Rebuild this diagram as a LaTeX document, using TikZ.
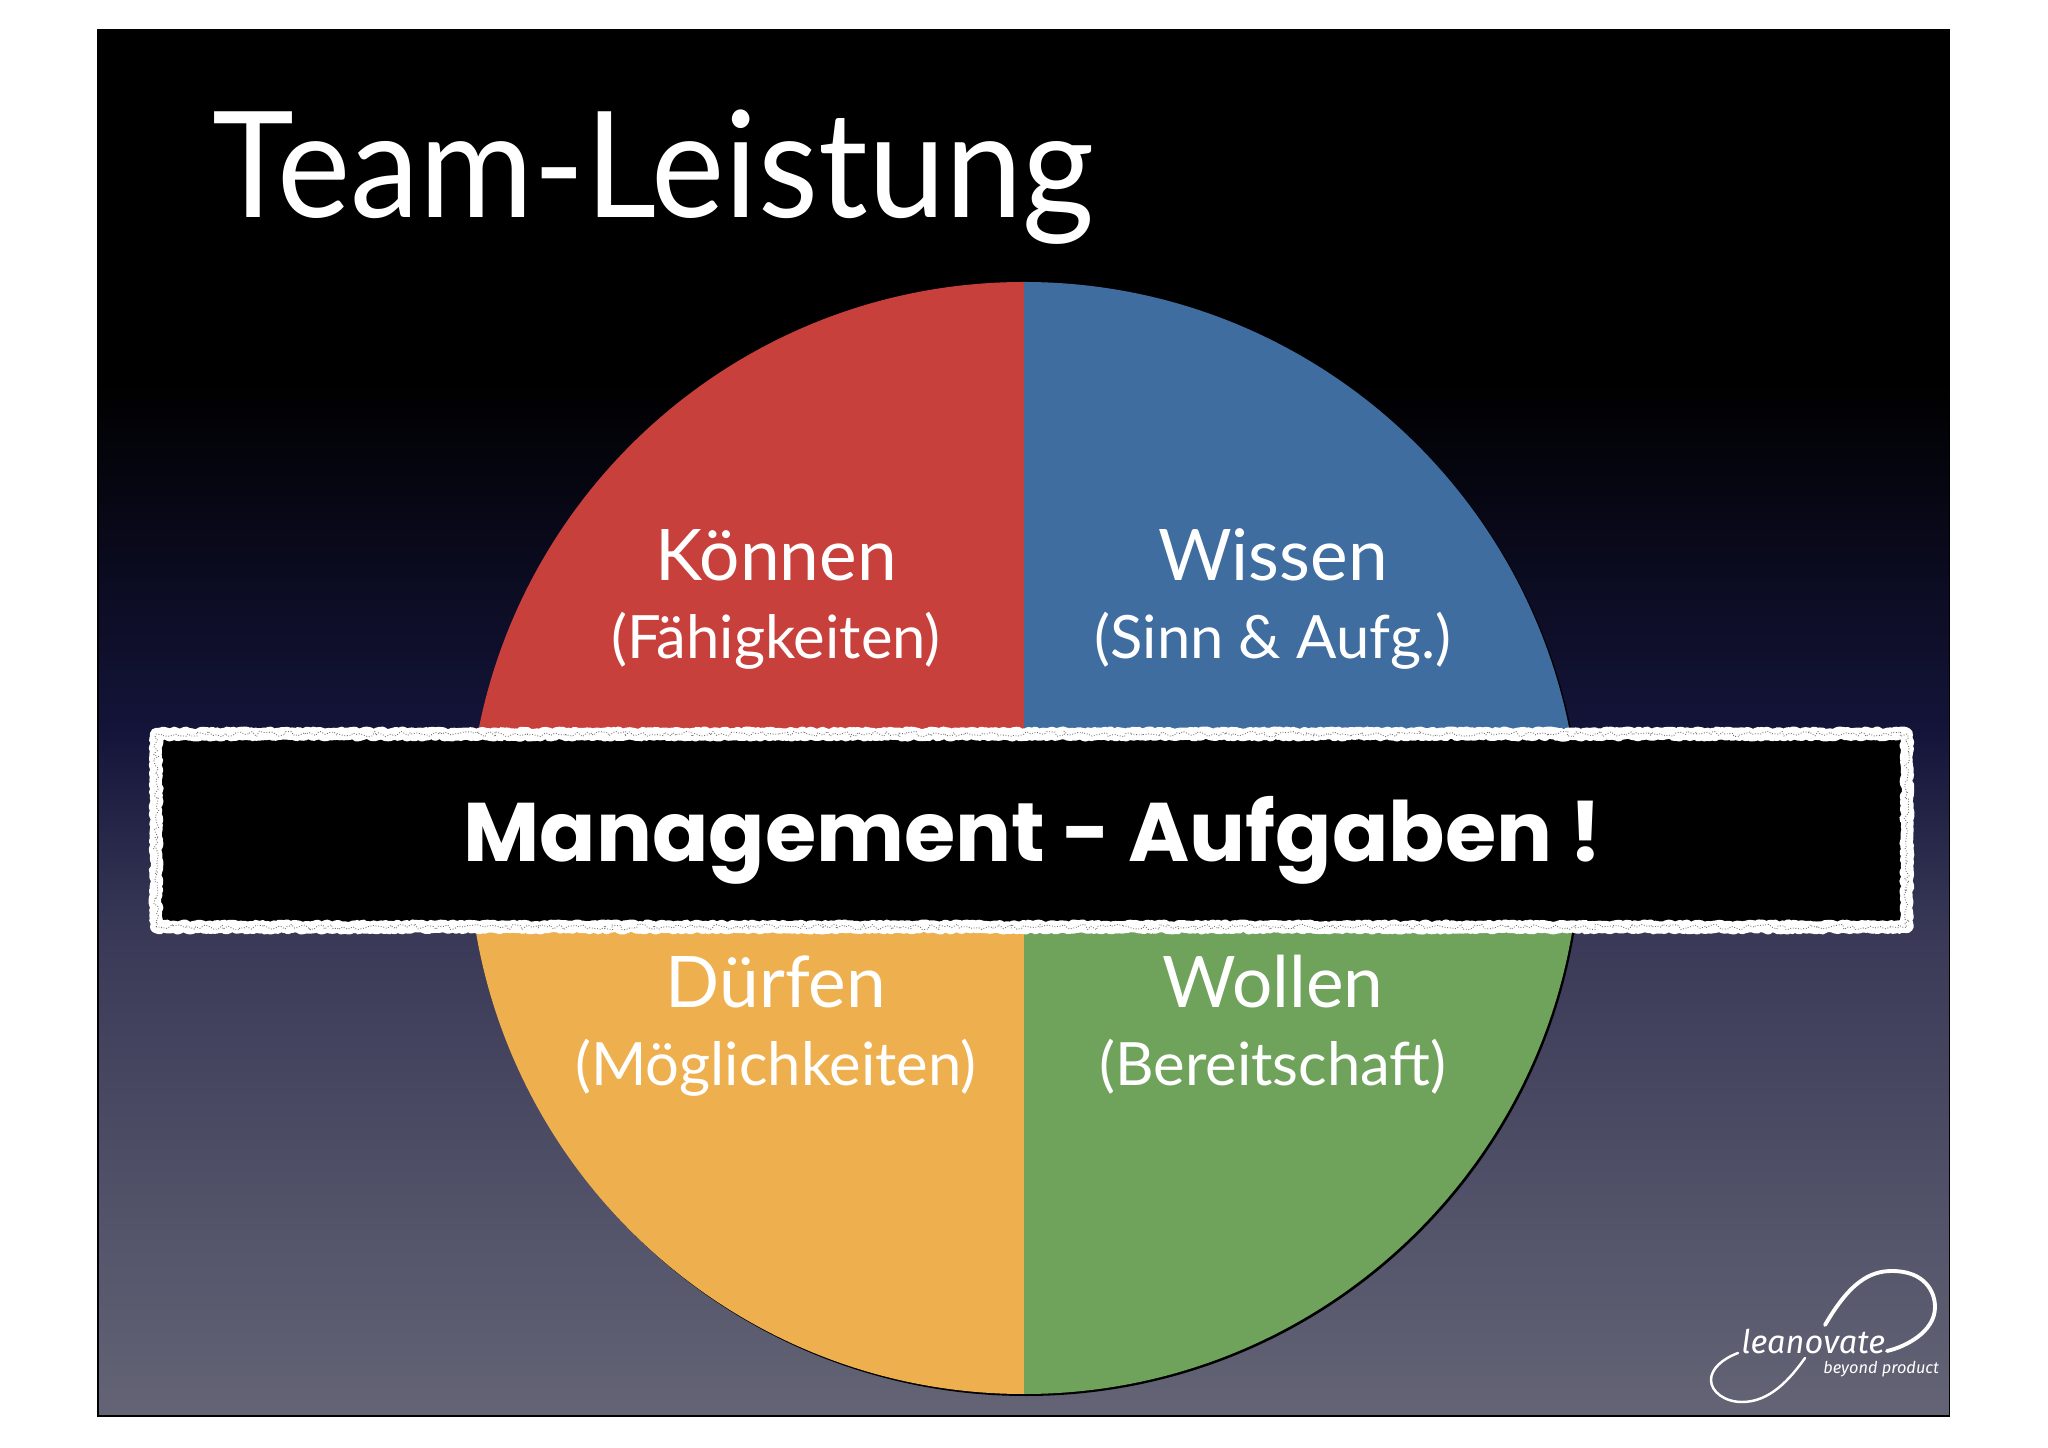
\documentclass[tikz,border=0pt]{standalone}
\usepackage{xcolor}
\usepackage{fontspec}
\usepackage{tikz}
\usetikzlibrary{decorations.pathmorphing}
\setmainfont{Lato}
\newfontfamily\titlefont[FakeStretch=0.94]{Lato}
\newfontfamily\bandfont{Poppins}
\newfontfamily\logofont{Fira Sans}
\definecolor{quadred}{HTML}{C8403C}
\definecolor{quadblue}{HTML}{3F6DA0}
\definecolor{quadorange}{HTML}{EEAF4E}
\definecolor{quadgreen}{HTML}{6FA35C}
\definecolor{bgnavy}{HTML}{14143A}
\definecolor{bgslate}{HTML}{3A3A58}
\definecolor{bggrey}{HTML}{646476}
\tikzset{
  quadtitle/.style={anchor=base, text=white, font=\fontsize{40.5}{40.5}\selectfont},
  quadsub/.style={anchor=base, text=white, font=\fontsize{34}{34}\selectfont},
  logoline/.style={draw=white, line width=2.2pt, line cap=round}
}
\begin{document}
\begin{tikzpicture}[x=0.02cm, y=0.02cm]
                  \useasboundingbox (0,0) rectangle (2048,1447);
                  \pgfmathsetseed{4711}
                  % Background
                  \fill [black] (98,1066) rectangle (1949,1417);
                  \shade [top color=black, bottom color=bgnavy] (98,716) rectangle (1949,1067);
                  \shade [top color=bgnavy, bottom color=bgslate] (98,506) rectangle (1949,717);
                  \shade [top color=bgslate, bottom color=bggrey] (98,31) rectangle (1949,507);
                  \draw [black, line width=0.6pt] (98,31) rectangle (1949,1417);

                  % Title
                  \node [anchor=base west, inner sep=0pt, text=white, font=\titlefont\fontsize{84}{84}\selectfont] (title) at (212,1229) {Team-Leistung};

                  % Quadrants of the circle
                  \fill [black] (1026,607) circle (556);
                  \fill [quadred] (1024,609) -- (1024,1165) arc (90:180:556) -- cycle;
                  \fill [quadblue] (1024,609) -- (1024,1165) arc (90:0:556) -- cycle;
                  \fill [quadorange] (1024,609) -- (1024,53) arc (270:180:556) -- cycle;
                  \fill [quadgreen] (1024,609) -- (1024,53) arc (270:360:556) -- cycle;

                  % Nodes for quadrants
                  \node [quadtitle] (koennen) at (776,866) {Können};
                  \node [quadsub] (koennensub) at (776,788) {(Fähigkeiten)};
                  \node [quadtitle] (wissen) at (1273,866) {Wissen};
                  \node [quadsub] (wissensub) at (1273,788) {(Sinn \& Aufg.)};
                  \node [quadtitle] (duerfen) at (776,439) {Dürfen};
                  \node [quadsub] (duerfensub) at (776,361) {(Möglichkeiten)};
                  \node [quadtitle] (wollen) at (1273,439) {Wollen};
                  \node [quadsub] (wollensub) at (1273,361) {(Bereitschaft)};

                  % Band across the circle
                  \node [draw=white, fill=black, line width=7pt, line join=round, inner sep=0pt, outer sep=0pt,
                         minimum width=35.02cm, minimum height=3.86cm,
                         decorate, decoration={random steps, segment length=1.3pt, amplitude=0.8pt}] (band) at (1031.5,616.5) {};
                  \draw [black!55, line width=0.5pt, line join=round, densely dotted, decorate, decoration={random steps, segment length=2pt, amplitude=1.6pt}]
                    (band.south west) rectangle (band.north east);
                  \node [anchor=base, inner sep=0pt, text=white, font=\bandfont\bfseries\fontsize{47.3}{47.3}\selectfont] (bandlabel) at (1033,585) {Management - Aufgaben !};

                  % Logo
                  \node [anchor=base west, inner sep=0pt, text=white, font=\logofont\itshape\fontsize{18.5}{18.5}\selectfont] (logoname) at (1741,94) {leanovate};
                  \node [anchor=base west, inner sep=0pt, text=white, font=\logofont\itshape\fontsize{9.3}{9.3}\selectfont] (logotag) at (1823,74) {beyond product};
                  \draw [logoline] (1825,122) .. controls (1850,165) and (1870,176) .. (1892,176)
                    .. controls (1925,176) and (1935,155) .. (1935,140)
                    .. controls (1935,115) and (1905,100) .. (1887,96);
                  \draw [logoline, line width=1.4pt] (1738,94) .. controls (1722,88) and (1711,78) .. (1711,67)
                    .. controls (1711,55) and (1725,45) .. (1742,45)
                    .. controls (1770,45) and (1790,68) .. (1805,89);
              \end{tikzpicture}
\end{document}
